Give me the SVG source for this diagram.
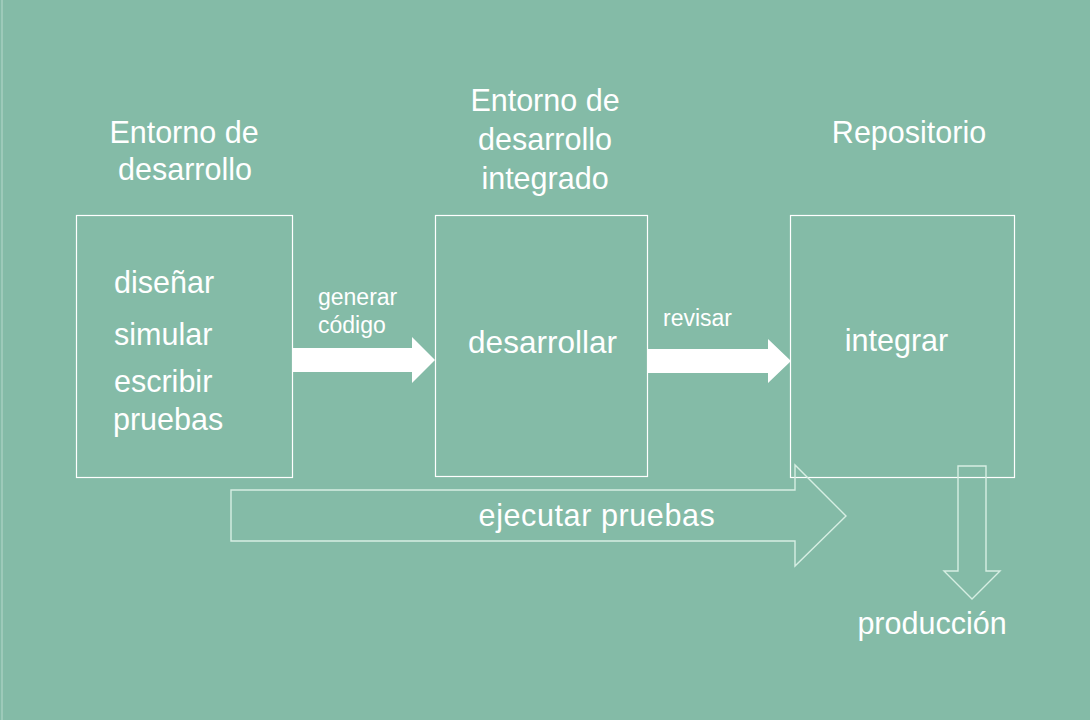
<svg xmlns="http://www.w3.org/2000/svg" width="1090" height="720" viewBox="0 0 1090 720">
<style>
.t{font-family:"Liberation Sans",Arial,sans-serif;fill:#ffffff;font-size:30.5px}
.s{font-family:"Liberation Sans",Arial,sans-serif;fill:#ffffff;font-size:23px}
.box{fill:none;stroke:#ffffff;stroke-width:1.2}
.hollow{fill:none;stroke:#d6eee3;stroke-width:1.4}
.solid{fill:#ffffff;stroke:none}
</style>
<rect x="0" y="0" width="1090" height="720" fill="#84bba7"/>
<line x1="2" y1="0" x2="2" y2="720" stroke="#b7d9cc" stroke-width="1"/>
<g id="node-entorno">
<text class="t" x="184" y="143" text-anchor="middle">Entorno de</text>
<text class="t" x="185" y="180" text-anchor="middle">desarrollo</text>
<rect class="box" x="76.5" y="215.5" width="216" height="262"/>
<text class="t" x="114" y="293">diseñar</text>
<text class="t" x="114" y="345">simular</text>
<text class="t" x="114" y="392">escribir</text>
<text class="t" x="113" y="430">pruebas</text>
</g>
<g id="node-ide">
<text class="t" x="545" y="111" text-anchor="middle">Entorno de</text>
<text class="t" x="545" y="150" text-anchor="middle">desarrollo</text>
<text class="t" x="545" y="189" text-anchor="middle">integrado</text>
<rect class="box" x="435.5" y="215.5" width="212" height="261"/>
<text class="t" x="542.5" y="353" text-anchor="middle" style="font-size:31.5px">desarrollar</text>
</g>
<g id="node-repo">
<text class="t" x="909" y="143" text-anchor="middle">Repositorio</text>
<rect class="box" x="790.5" y="215.5" width="224" height="262"/>
<text class="t" x="896.5" y="351" text-anchor="middle">integrar</text>
</g>
<g id="node-produccion">
<text class="t" x="932" y="634" text-anchor="middle">producción</text>
</g>
<g id="connectors">
<polygon class="solid" points="293,348 412,348 412,337 435,360 412,383 412,372 293,372"/>
<text class="s" x="318" y="305">generar</text>
<text class="s" x="318" y="333">código</text>
<polygon class="solid" points="648,349 768,349 768,339 791,361 768,383 768,373 648,373"/>
<text class="s" x="663" y="326">revisar</text>
<polygon class="hollow" points="231,490 795,490 795,465 846,516 795,566 795,541 231,541"/>
<text class="t" x="597" y="526" text-anchor="middle" letter-spacing="0.6">ejecutar pruebas</text>
<polygon class="hollow" points="958,466 986,466 986,571 1000,571 972,599 944,571 958,571"/>
</g>
</svg>
